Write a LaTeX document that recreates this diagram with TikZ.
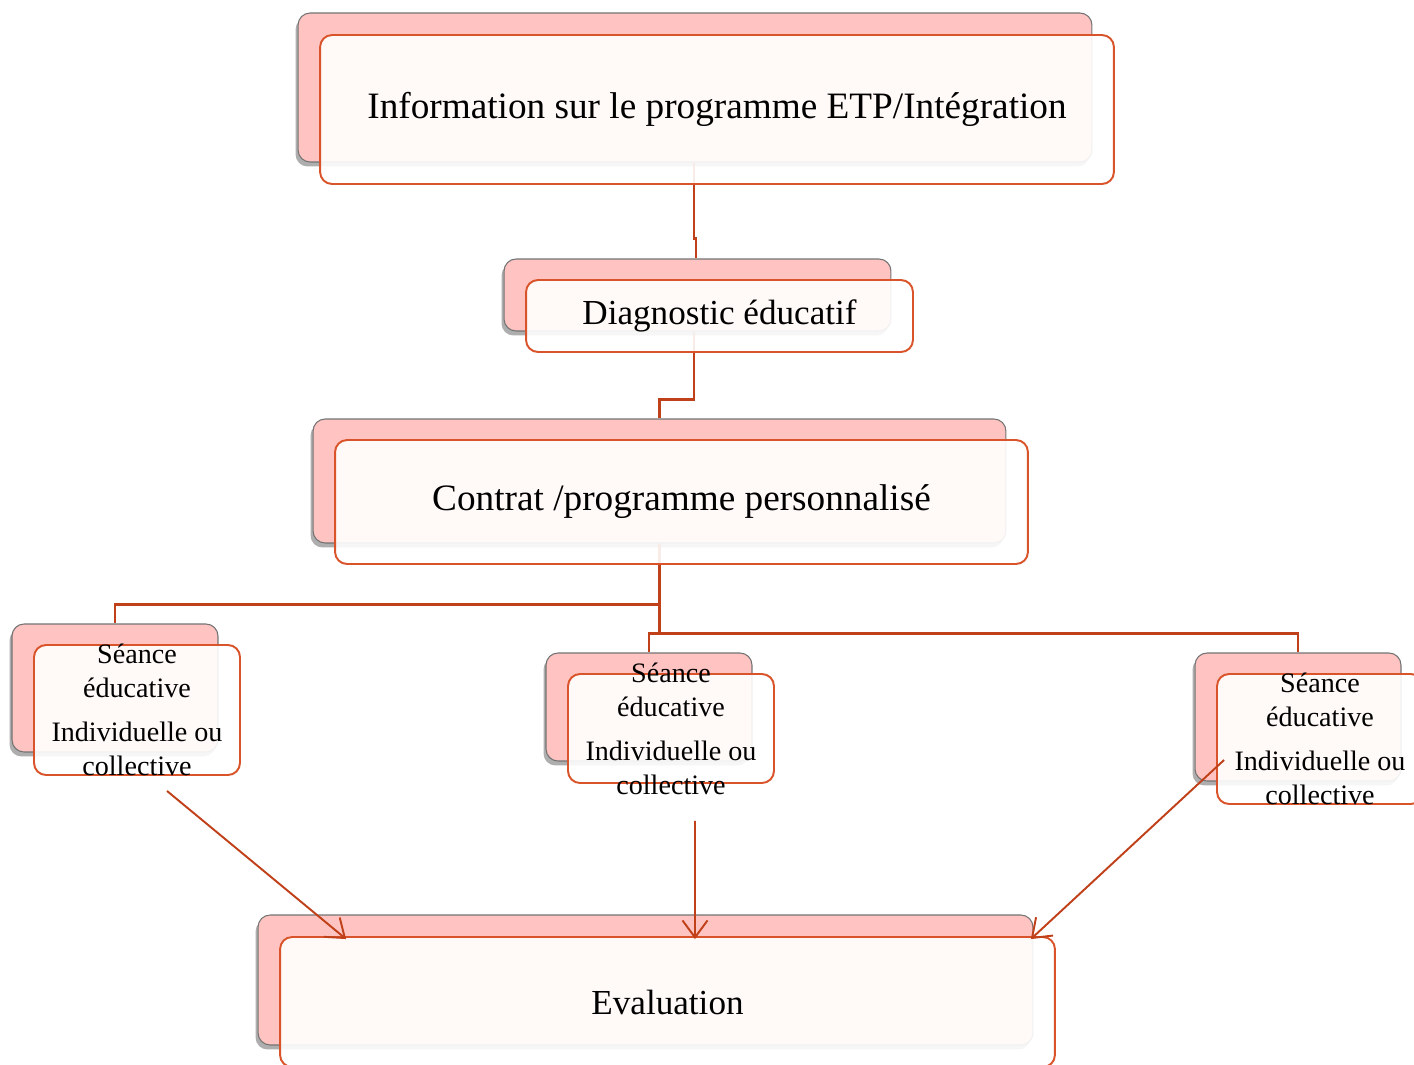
\documentclass[tikz,border=0pt]{standalone}
\usepackage{fontspec}
\setmainfont{Liberation Serif}
\usetikzlibrary{arrows.meta,shadows}

\definecolor{backpink}{HTML}{FFC4C1}
\definecolor{frontline}{HTML}{D9542A}
\definecolor{connline}{HTML}{C0401A}

\tikzstyle{back} = [rectangle, rounded corners=0.24cm, inner sep=0pt, draw=black!55, line width=0.6pt, fill=backpink, drop shadow={shadow xshift=-0.05cm, shadow yshift=-0.09cm, opacity=0.45, fill=black!70}]
\tikzstyle{front} = [rectangle, rounded corners=0.24cm, inner sep=0pt, draw=frontline, line width=1.1pt, fill=white, fill opacity=0.9, text opacity=1, font=\fontsize{20}{24}\selectfont]
\tikzstyle{big} = [font=\fontsize{21.2}{25}\selectfont]
\tikzstyle{stext} = [align=center, inner sep=0pt, font=\fontsize{16}{19.3}\selectfont]
\tikzstyle{conn} = [draw=connline, line width=1.4pt]
\tikzstyle{arrow} = [draw=connline, line width=1.1pt, -{Straight Barb[length=0.34cm,width=0.5cm]}]

\begin{document}
\begin{tikzpicture}[x=0.02cm, y=-0.02cm]
    \useasboundingbox (0,0) rectangle (1414,1065);
    \node[back, minimum width=15.88cm, minimum height=2.98cm] (infoB) at (695,87.5) {};
    \node[back, minimum width=7.74cm, minimum height=1.44cm] (diagB) at (697.5,295) {};
    \node[back, minimum width=13.86cm, minimum height=2.48cm] (contratB) at (659.5,481) {};
    \node[back, minimum width=4.12cm, minimum height=2.56cm] (s1B) at (115,688) {};
    \node[back, minimum width=4.12cm, minimum height=2.16cm] (s2B) at (649,707) {};
    \node[back, minimum width=4.12cm, minimum height=2.56cm] (s3B) at (1298,717) {};
    \node[back, minimum width=15.5cm, minimum height=2.6cm] (evalB) at (645.5,980) {};

    \draw[conn] ([shift={(-1,0)}]infoB.south) -- ++(0,76) -| ([shift={(-1.5,0)}]diagB.north);
    \draw[conn] ([shift={(-3.5,0)}]diagB.south) -- ++(0,68) -| (contratB.north);
    \draw[conn] (contratB.south) -- ++(0,61) -| (s1B.north);
    \draw[conn] (contratB.south) -- ++(0,90) -| (s2B.north);
    \draw[conn] (contratB.south) -- ++(0,90) -| (s3B.north);

    \node[front, big, minimum width=15.88cm, minimum height=2.98cm] (infoF) at ([shift={(22,22)}]infoB.center) {Information sur le programme ETP/Intégration};
    \node[front, minimum width=7.74cm, minimum height=1.44cm] (diagF) at ([shift={(22,21)}]diagB.center) {Diagnostic éducatif};
    \node[front, big, minimum width=13.86cm, minimum height=2.48cm] (contratF) at ([shift={(22,21)}]contratB.center) {Contrat /programme personnalisé};
    \node[front, minimum width=4.12cm, minimum height=2.6cm] (s1F) at ([shift={(22,22)}]s1B.center) {};
    \node[front, minimum width=4.12cm, minimum height=2.18cm] (s2F) at ([shift={(22,21.5)}]s2B.center) {};
    \node[front, minimum width=4.12cm, minimum height=2.6cm] (s3F) at ([shift={(22,22)}]s3B.center) {};
    \node[front, minimum width=15.5cm, minimum height=2.6cm] (evalF) at ([shift={(22,22)}]evalB.center) {Evaluation};

    \node[stext] (s1T) at (s1F.center) {Séance\\éducative\\[0.2cm]Individuelle ou\\collective};
    \node[stext] (s2T) at (s2F.center) {Séance\\éducative\\[0.2cm]Individuelle ou\\collective};
    \node[stext] (s3T) at (s3F.center) {Séance\\éducative\\[0.2cm]Individuelle ou\\collective};

    \draw[arrow] ([shift={(30,15)}]s1F.south) -- ([shift={(67,3)}]evalF.north west);
    \draw[arrow] ([shift={(24,37)}]s2F.south) -- ([shift={(27.5,3)}]evalF.north);
    \draw[arrow] ([shift={(8,21)}]s3F.west) -- ([shift={(-25,3)}]evalF.north east);
\end{tikzpicture}
\end{document}
